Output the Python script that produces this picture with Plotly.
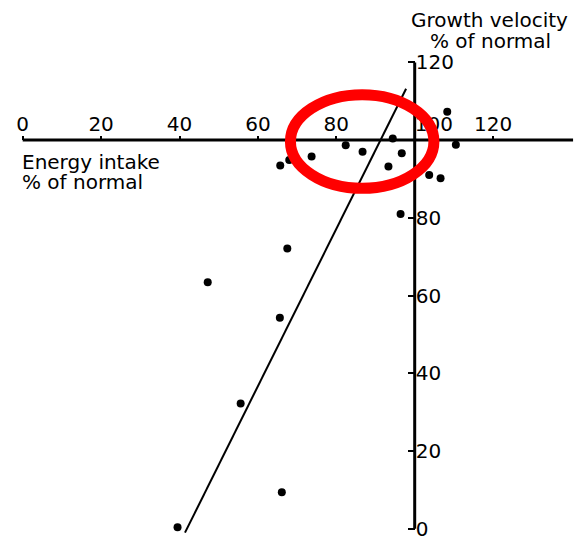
import plotly.graph_objects as go

# Energy intake (% of normal) vs growth velocity (% of normal)
energy_intake = [39.5, 66.1, 55.6, 65.6, 47.2, 67.5, 96.4, 65.7, 68.0, 73.7,
                 82.4, 86.7, 94.4, 93.3, 96.7, 103.7, 106.6, 108.3, 110.5]
growth_velocity = [0.4, 9.4, 32.2, 54.3, 63.4, 72.1, 81.0, 93.5, 94.9, 95.8,
                   98.7, 97.0, 100.4, 93.2, 96.6, 91.0, 90.2, 107.3, 98.8]

# fitted line end points
fit_x = [41.4, 97.8]
fit_y = [-1.0, 113.2]

x_ticks = [0, 20, 40, 60, 80, 100, 120]
x_tick_text = ["0", "20", "40", "60", "80", "\u00a0\u00a0\u00a0\u00a0\u00a0\u00a0100", "120"]
y_ticks = [0, 20, 40, 60, 80, 120]
y_tick_text = ["0", "20", "40", "60", "80", "120"]

# axes cross at (100, 100)
x_cross = 100
y_cross = 100
x_axis_end = 140.4
y_axis_end = 120

# highlighted cluster
ring_x = [68.3, 104.9]
ring_y = [87.6, 111.7]

W, H = 576, 541
x_range = [-5.791, 141.148]
y_range = [-2.380, 136.054]

FONT = "DejaVu Sans"

fig = go.Figure()

fig.add_trace(go.Scatter(
    x=fit_x, y=fit_y, mode="lines",
    line=dict(color="black", width=2), hoverinfo="skip", showlegend=False,
))
fig.add_trace(go.Scatter(
    x=energy_intake, y=growth_velocity, mode="markers",
    marker=dict(color="black", size=8), cliponaxis=False, showlegend=False,
))

# axis lines
fig.add_shape(type="line", xref="x", yref="y", x0=0, x1=x_axis_end,
              y0=y_cross, y1=y_cross, line=dict(color="black", width=3))
fig.add_shape(type="line", xref="x", yref="y", x0=x_cross, x1=x_cross,
              y0=0, y1=y_axis_end, line=dict(color="black", width=3))

# red ring around the cluster
fig.add_shape(type="circle", xref="x", yref="y",
              x0=ring_x[0], x1=ring_x[1], y0=ring_y[0], y1=ring_y[1],
              line=dict(color="#ff0000", width=11), layer="above")

x_pos = (y_cross - y_range[0]) / (y_range[1] - y_range[0])
y_pos = (x_cross - x_range[0]) / (x_range[1] - x_range[0])

fig.update_layout(
    width=W, height=H,
    margin=dict(l=0, r=0, t=0, b=0),
    paper_bgcolor="white", plot_bgcolor="white",
    font=dict(family=FONT, color="black", size=20),
    xaxis=dict(
        range=x_range, domain=[0, 1], anchor="free", position=x_pos,
        side="top", showgrid=False, zeroline=False, showline=False,
        tickmode="array", tickvals=x_ticks, ticktext=x_tick_text,
        ticks="outside", ticklen=4, tickwidth=2, tickcolor="black",
        ticklabelstandoff=-3, ticklabeloverflow="allow",
        tickfont=dict(family=FONT, size=20, color="black"),
    ),
    yaxis=dict(
        range=y_range, domain=[0, 1], anchor="free", position=y_pos,
        side="right", showgrid=False, zeroline=False, showline=False,
        tickmode="array", tickvals=y_ticks, ticktext=y_tick_text,
        ticks="inside", ticklen=7, tickwidth=2, tickcolor="black",
        ticklabeloverflow="allow",
        tickfont=dict(family=FONT, size=20, color="black"),
    ),
)

def ann(text, px, py, xanchor):
    fig.add_annotation(text=text, xref="paper", yref="paper",
                       x=px / W, y=1 - py / H, xanchor=xanchor, yanchor="middle",
                       showarrow=False, font=dict(family=FONT, size=20, color="black"))

ann("Growth velocity", 489.5, 20, "center")
ann("% of normal", 490, 41, "center")
ann("Energy intake", 20, 163, "left")
ann("% of normal", 20, 183, "left")

fig.write_html("out.html")
